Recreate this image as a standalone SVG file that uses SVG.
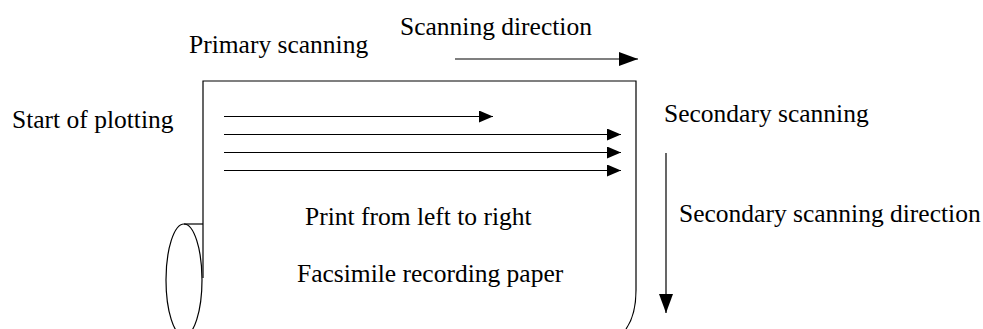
<svg xmlns="http://www.w3.org/2000/svg" width="983" height="329" viewBox="0 0 983 329">
<style>
text{font-family:'Liberation Serif','Times New Roman',serif;font-size:25.5px;fill:#000}
.ln{fill:none;stroke:#000;stroke-width:1.2}
</style>
<defs>
<marker id="ah" markerWidth="14" markerHeight="12" refX="14" refY="6" orient="auto" markerUnits="userSpaceOnUse"><path d="M0,0 L14,6 L0,12 Z" fill="#000"/></marker>
<marker id="ahL" markerWidth="19" markerHeight="14" refX="19" refY="7" orient="auto" markerUnits="userSpaceOnUse"><path d="M0,0 L19,7 L0,14 Z" fill="#000"/></marker>
</defs>
<rect width="983" height="329" fill="#fff"/>
<g id="paper">
<path class="ln" d="M203,278 L203,81 L636,81 L636,290 Q636,315 626,329"/>
<ellipse class="ln" cx="184" cy="280" rx="18" ry="56"/>
<line class="ln" x1="184" y1="224" x2="203" y2="224"/>
</g>
<g id="connectors">
<line class="ln" x1="224" y1="116.5" x2="493" y2="116.5" marker-end="url(#ah)"/>
<line class="ln" x1="224" y1="134.5" x2="621" y2="134.5" marker-end="url(#ah)"/>
<line class="ln" x1="224" y1="152.5" x2="621" y2="152.5" marker-end="url(#ah)"/>
<line class="ln" x1="224" y1="170.5" x2="621" y2="170.5" marker-end="url(#ah)"/>
<line class="ln" x1="455" y1="59" x2="638" y2="59" marker-end="url(#ahL)"/>
<line class="ln" x1="666" y1="153" x2="666" y2="313" marker-end="url(#ahL)"/>
</g>
<g id="labels">
<text x="400" y="35">Scanning direction</text>
<text x="189" y="53">Primary scanning</text>
<text x="12" y="128">Start of plotting</text>
<text x="664" y="122">Secondary scanning</text>
<text x="679" y="222">Secondary scanning direction</text>
<text x="305" y="225">Print from left to right</text>
<text x="297" y="282">Facsimile recording paper</text>
</g>
</svg>
